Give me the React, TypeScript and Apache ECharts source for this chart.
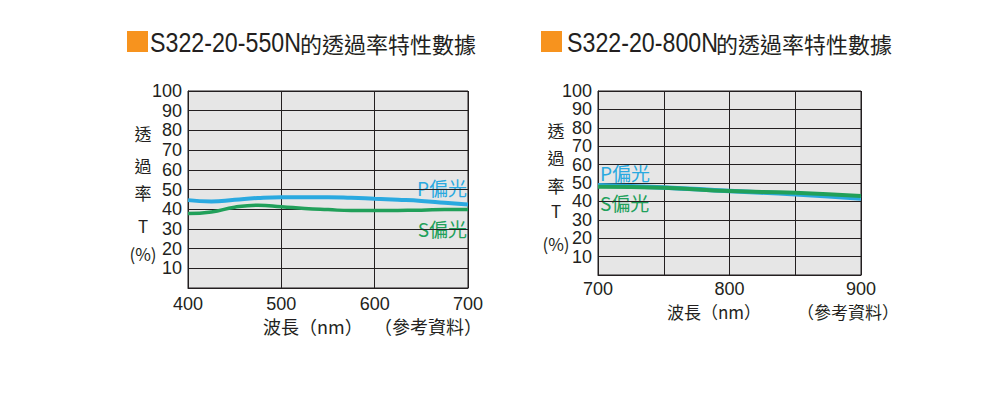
import React, { useEffect, useRef } from "react";
import * as echarts from "echarts";

// ---- data ----
const leftWavelengths = [400, 425, 450, 475, 500, 525, 550, 575, 600, 625, 650, 675, 700];
const leftP = [44.6, 43.9, 44.8, 45.7, 46.1, 46.1, 46.1, 45.8, 45.3, 44.8, 44.2, 43.3, 42.4];
const leftS = [37.8, 38.6, 41.0, 42.0, 41.3, 40.4, 39.8, 39.3, 39.3, 39.4, 39.5, 39.9, 39.8];

const rightWavelengths = [700, 750, 800, 850, 900];
const rightP = [48.8, 47.6, 45.6, 43.9, 41.6];
const rightS = [47.9, 47.4, 45.6, 44.7, 42.9];

const leftTitleCode = "S322-20-550N";
const rightTitleCode = "S322-20-800N";
const titleSuffix = "的透過率特性數據";
const yTitleChars = ["透", "過", "率", "T", "(%)"];
const xTitle = "波長（nm）";
const refNote = "（參考資料）";
const pLabel = "P偏光";
const sLabel = "S偏光";

const LATIN = "'Liberation Sans', Arimo, Arial, sans-serif";
const CJK = "'Noto Sans CJK TC', 'Noto Sans CJK SC', sans-serif";
const DARK = "#231f20";
const BLUE = "#2aa9e0";
const GREEN = "#21a05a";
const ORANGE = "#f7931e";

const pairs = (xs: number[], ys: number[]) => xs.map((x, i) => [x, ys[i]]);

function yAxisCfg(gridIndex: number) {
  return {
    gridIndex,
    type: "value",
    min: 0,
    max: 100,
    interval: 10,
    axisLine: { show: true, lineStyle: { color: DARK, width: 1 } },
    axisTick: { show: false },
    splitLine: { show: true, lineStyle: { color: DARK, width: 1 } },
    axisLabel: {
      show: true,
      margin: 6,
      fontSize: 18,
      lineHeight: 18,
      fontFamily: LATIN,
      color: DARK,
      showMinLabel: false,
      showMaxLabel: true,
      hideOverlap: false,
      formatter: (v: number) => (v === 0 ? "" : String(v)),
    },
  };
}

function xAxisCfg(gridIndex: number, min: number, max: number, interval: number, margin: number) {
  return {
    gridIndex,
    type: "value",
    min,
    max,
    interval,
    axisLine: { show: true, lineStyle: { color: DARK, width: 1 } },
    axisTick: { show: false },
    splitLine: { show: true, lineStyle: { color: DARK, width: 1 } },
    axisLabel: {
      show: true,
      margin,
      fontSize: 18,
      lineHeight: 18,
      fontFamily: LATIN,
      color: DARK,
      showMinLabel: true,
      showMaxLabel: true,
      hideOverlap: false,
      formatter: (v: number) => (v % 100 === 0 ? String(v) : ""),
    },
  };
}

function title(x: number, cjkX: number, sqX: number, code: string) {
  return [
    { type: "rect", shape: { x: sqX, y: 31, width: 21, height: 21 }, style: { fill: ORANGE } },
    {
      type: "text",
      x,
      y: 42,
      scaleX: 0.86,
      style: {
        text: code,
        fontSize: 27,
        fontFamily: LATIN,
        fill: DARK,
        align: "left",
        verticalAlign: "middle",
      },
    },
    {
      type: "text",
      x: cjkX,
      y: 43,
      style: {
        text: titleSuffix,
        fontSize: 22,
        fontFamily: CJK,
        fill: DARK,
        align: "left",
        verticalAlign: "middle",
      },
    },
  ];
}

function yTitle(x: number, ys: number[]) {
  return yTitleChars.map((c, i) => ({
    type: "text",
    x,
    y: ys[i],
    style: {
      text: c,
      fontSize: 17,
      fontFamily: CJK,
      fill: DARK,
      align: "center",
      verticalAlign: "middle",
    },
  }));
}

function txt(text: string, x: number, y: number, align: string, color: string, size: number) {
  return {
    type: "text",
    x,
    y,
    style: { text, fontSize: size, fontFamily: CJK, fill: color, align, verticalAlign: "middle" },
  };
}

export default function App() {
  const ref = useRef<HTMLDivElement>(null);
  useEffect(() => {
    if (!ref.current) return;
    const chart = echarts.init(ref.current, undefined, { renderer: "svg" });
    const option: any = {
      animation: false,
      backgroundColor: "#ffffff",
      grid: [
        {
          left: 188,
          top: 91,
          width: 280,
          height: 197,
          show: true,
          backgroundColor: "#e6e6e6",
          borderColor: DARK,
          borderWidth: 1,
          outerBoundsMode: "none",
        },
        {
          left: 598,
          top: 91,
          width: 263,
          height: 184,
          show: true,
          backgroundColor: "#e6e6e6",
          borderColor: DARK,
          borderWidth: 1,
          outerBoundsMode: "none",
        },
      ],
      xAxis: [xAxisCfg(0, 400, 700, 100, 7), xAxisCfg(1, 700, 900, 50, 5)],
      yAxis: [yAxisCfg(0), yAxisCfg(1)],
      series: [
        {
          type: "line",
          xAxisIndex: 0,
          yAxisIndex: 0,
          data: pairs(leftWavelengths, leftP),
          smooth: true,
          showSymbol: false,
          lineStyle: { color: BLUE, width: 4 },
          itemStyle: { color: BLUE },
        },
        {
          type: "line",
          xAxisIndex: 0,
          yAxisIndex: 0,
          data: pairs(leftWavelengths, leftS),
          smooth: true,
          showSymbol: false,
          lineStyle: { color: GREEN, width: 3.5 },
          itemStyle: { color: GREEN },
        },
        {
          type: "line",
          xAxisIndex: 1,
          yAxisIndex: 1,
          data: pairs(rightWavelengths, rightP),
          smooth: true,
          showSymbol: false,
          lineStyle: { color: BLUE, width: 4.5 },
          itemStyle: { color: BLUE },
        },
        {
          type: "line",
          xAxisIndex: 1,
          yAxisIndex: 1,
          data: pairs(rightWavelengths, rightS),
          smooth: true,
          showSymbol: false,
          lineStyle: { color: GREEN, width: 4 },
          itemStyle: { color: GREEN },
        },
      ],
      graphic: [
        ...title(150, 300, 127, leftTitleCode),
        ...title(567, 716, 541, rightTitleCode),
        ...yTitle(143, [133, 165, 192, 225, 253]),
        ...yTitle(556, [130, 157, 185, 210, 243]),
        txt(xTitle, 263, 326, "left", DARK, 18),
        txt(refNote, 428, 326, "center", DARK, 18),
        txt(xTitle, 667, 311, "left", DARK, 17),
        txt(refNote, 848, 311, "center", DARK, 17),
        txt(pLabel, 467, 187, "right", BLUE, 19),
        txt(sLabel, 467, 228, "right", GREEN, 19),
        txt(pLabel, 600, 172, "left", BLUE, 19),
        txt(sLabel, 600, 202, "left", GREEN, 19),
      ],
    };
    chart.setOption(option);
    return () => chart.dispose();
  }, []);
  return (
    <div
      ref={ref}
      style={{ position: "absolute", left: 0, top: 0, width: 1000, height: 396 }}
    />
  );
}
